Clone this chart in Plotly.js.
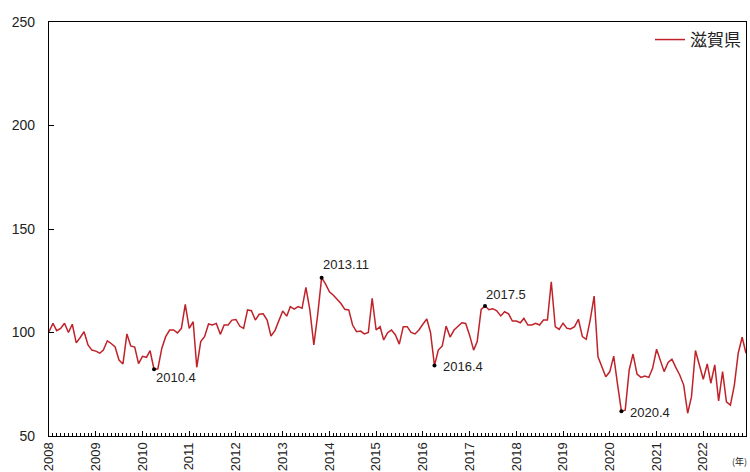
<!DOCTYPE html>
<html>
<head>
<meta charset="utf-8">
<script src="https://cdn.plot.ly/plotly-3.0.1.min.js"></script>
<style>html,body{margin:0;padding:0;background:#fff;}#chart{width:750px;height:472px;}</style>
</head>
<body>
<div id="chart"></div>
<script>
const seriesName = '滋賀県';
const startYear = 2008;
const years = ['2008','2009','2010','2011','2012','2013','2014','2015','2016','2017','2018','2019','2020','2021','2022'];
const values = [
  100.4, 104.4, 100.9, 102, 104.5, 100, 104, 95, 97.6, 100.4, 94, 91.5,
  91, 90, 91.5, 96, 94.7, 93, 86.7, 84.8, 99.3, 93.5, 93, 85,
  88.5, 88, 91.2, 82.2, 82.5, 92.4, 98, 101.2, 101.2, 99.8, 102, 113.6,
  102, 105.2, 83.2, 95.6, 98, 104.1, 103.6, 104.4, 99.1, 103.6, 103.6, 106,
  106.3, 103, 102, 110.9, 110.5, 106, 108.8, 109, 106, 98.3, 100.9, 106,
  110.4, 107.9, 112.5, 111.3, 112.5, 111.7, 121.8, 110.9, 94, 108.5, 126.5, 123.5,
  119.7, 118, 116, 114, 111.2, 110.9, 103.6, 100.4, 100.7, 99.3, 100, 116.5,
  101.2, 102.8, 96.4, 99.9, 101.2, 98.8, 94.4, 102.8, 102.8, 100, 99.3, 101.2,
  104, 106.5, 100, 84, 91.5, 93.5, 103.1, 97.8, 101.2, 103.1, 104.7, 104.4,
  98.6, 91.5, 95.6, 111.2, 112.8, 111, 111.5, 110.5, 108, 110, 109, 105.5,
  105.5, 104.7, 106.8, 103.6, 103.6, 104.4, 103.6, 106, 106, 124.5, 102.8, 101.5,
  104.5, 102, 101.7, 102.8, 106.4, 98, 96.7, 106, 117.6, 88.3, 83.5, 78.6,
  81, 88.6, 75.4, 62, 62.5, 81.9, 89.6, 79.9, 78.3, 79, 78.3, 82.7,
  91.9, 86.7, 81.1, 85.5, 87.1, 83, 79.5, 74.6, 61, 69, 91.3, 84.4,
  77.4, 84.8, 75.5, 84.4, 67, 81.1, 66.5, 64.9, 74.6, 90, 97.7, 90
];
const markLabels = ['2010.4', '2013.11', '2016.4', '2017.5', '2020.4'];
const yTicks = [50, 100, 150, 200, 250];

// month dates for each value
const months = values.map((v, k) => {
  const y = startYear + Math.floor(k / 12);
  const m = (k % 12) + 1;
  return y + '-' + String(m).padStart(2, '0') + '-01';
});
function labelIndex(lbl) {
  const [y, m] = lbl.split('.').map(Number);
  return (y - startYear) * 12 + (m - 1);
}
const markIdx = markLabels.map(labelIndex);

// text placement for each label: [xanchor, yanchor, xshift, yshift]
const place = {
  '2010.4': ['left', 'top', 0, 1],
  '2013.11': ['left', 'bottom', -1, 4],
  '2016.4': ['left', 'middle', 7, -1],
  '2017.5': ['left', 'bottom', -1, 2],
  '2020.4': ['left', 'middle', 7, -1]
};

const lineColor = '#bf2229';
const txtColor = '#222';
const fontFam = 'Liberation Sans, Arial, sans-serif';

const traces = [
  {
    x: months, y: values, type: 'scatter', mode: 'lines', name: seriesName,
    line: {color: lineColor, width: 1.5}
  },
  {
    x: markIdx.map(i => months[i]), y: markIdx.map(i => values[i]),
    type: 'scatter', mode: 'markers', showlegend: false,
    marker: {color: '#000', size: 4}
  }
];

const annotations = markLabels.map((lbl, k) => {
  const p = place[lbl];
  const i = markIdx[k];
  return {
    x: months[i], y: values[i], xref: 'x', yref: 'y', text: lbl, showarrow: false,
    xanchor: p[0], yanchor: p[1], xshift: p[2], yshift: p[3],
    font: {family: fontFam, size: 13, color: txtColor}
  };
});
annotations.push({
  xref: 'paper', yref: 'paper', x: 1, y: 0, xanchor: 'right', yanchor: 'bottom',
  xshift: 3, yshift: -34, text: '(年)', showarrow: false,
  font: {family: 'Noto Sans CJK JP, sans-serif', size: 9, color: txtColor}
});

const layout = {
  width: 750, height: 472,
  margin: {l: 49, r: 4, t: 22, b: 36},
  paper_bgcolor: '#fff', plot_bgcolor: '#fff',
  showlegend: true,
  legend: {
    x: 1, xanchor: 'right', y: 1, yanchor: 'top',
    bgcolor: 'rgba(0,0,0,0)', borderwidth: 0,
    font: {family: 'Noto Sans CJK JP, sans-serif', size: 17, color: txtColor},
    itemwidth: 30
  },
  xaxis: {
    type: 'date',
    range: [months[0], months[months.length - 1]],
    tickmode: 'array',
    tickvals: years.map(y => y + '-01-01'),
    ticktext: years,
    tickangle: -90,
    ticks: 'inside', ticklen: 5, tickcolor: '#000', tickwidth: 1,
    minor: {dtick: 'M1', tick0: months[0], ticks: 'inside', ticklen: 3, tickcolor: '#000', tickwidth: 1, showgrid: false},
    showgrid: false, zeroline: false,
    showline: true, linecolor: '#000', linewidth: 1.2, mirror: true,
    tickfont: {family: fontFam, size: 13, color: txtColor},
    fixedrange: true
  },
  yaxis: {
    range: [50, 250],
    tickmode: 'array', tickvals: yTicks, ticktext: yTicks.map(String),
    ticks: 'inside', ticklen: 5, tickcolor: '#000',
    ticklabelstandoff: 10,
    showgrid: false, zeroline: false,
    showline: true, linecolor: '#000', linewidth: 1.2, mirror: true,
    tickfont: {family: fontFam, size: 14, color: txtColor},
    fixedrange: true
  },
  annotations: annotations
};

Plotly.newPlot('chart', traces, layout, {displayModeBar: false, staticPlot: true});
</script>
</body>
</html>
